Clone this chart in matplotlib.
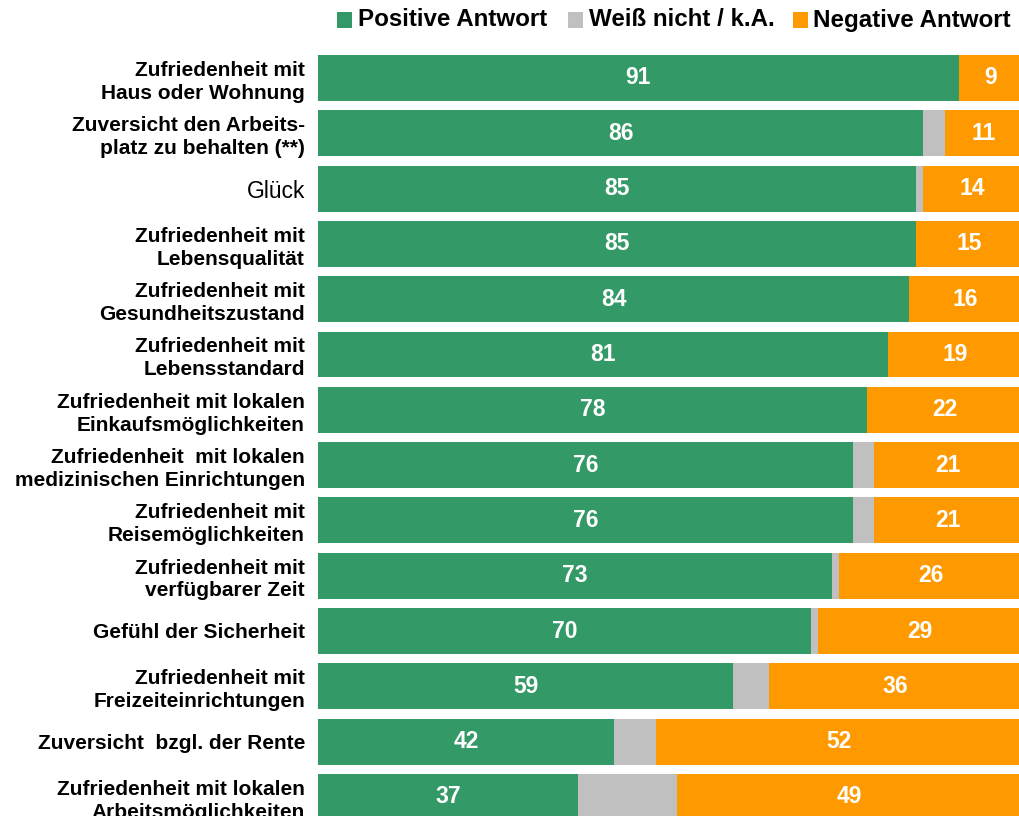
import matplotlib
matplotlib.use("Agg")
import matplotlib.pyplot as plt
from matplotlib.patches import Rectangle

plt.rcParams['font.family'] = ['Liberation Sans', 'DejaVu Sans']

categories = [
    "Zufriedenheit mit\nHaus oder Wohnung",
    "Zuversicht den Arbeits-\nplatz zu behalten (**)",
    "Glück",
    "Zufriedenheit mit\nLebensqualität",
    "Zufriedenheit mit\nGesundheitszustand",
    "Zufriedenheit mit\nLebensstandard",
    "Zufriedenheit mit lokalen\nEinkaufsmöglichkeiten",
    "Zufriedenheit  mit lokalen\nmedizinischen Einrichtungen",
    "Zufriedenheit mit\nReisemöglichkeiten",
    "Zufriedenheit mit\nverfügbarer Zeit",
    "Gefühl der Sicherheit",
    "Zufriedenheit mit\nFreizeiteinrichtungen",
    "Zuversicht  bzgl. der Rente",
    "Zufriedenheit mit lokalen\nArbeitsmöglichkeiten",
]
positive = [91, 86, 85, 85, 84, 81, 78, 76, 76, 73, 70, 59, 42, 37]
dontknow = [0, 3, 1, 0, 0, 0, 0, 3, 3, 1, 1, 5, 6, 14]
negative = [9, 11, 14, 15, 16, 19, 22, 21, 21, 26, 29, 36, 52, 49]
series_names = ["Positive Antwort", "Weiß nicht / k.A.", "Negative Antwort"]
colors = ["#339966", "#C0C0C0", "#FF9900"]

W, H = 1019, 816
fig = plt.figure(figsize=(W / 100, H / 100), dpi=100)
ax = fig.add_axes([318 / W, 0, 704 / W, 1])

ys = list(range(len(categories)))
h = 0.83
ax.barh(ys, positive, height=h, color=colors[0], linewidth=0)
ax.barh(ys, dontknow, left=positive, height=h, color=colors[1], linewidth=0)
lefts = [p + d for p, d in zip(positive, dontknow)]
ax.barh(ys, negative, left=lefts, height=h, color=colors[2], linewidth=0)

for y, p, l, n in zip(ys, positive, lefts, negative):
    ax.text(p / 2, y, str(p), ha='center', va='center', color='white',
            fontsize=16.5, fontweight='bold')
    ax.text(l + n / 2, y, str(n), ha='center', va='center', color='white',
            fontsize=16.5, fontweight='bold')

ax.set_xlim(0, 100)
pitch = 55.3
c0 = 78
ax.set_ylim((H - c0) / pitch, -c0 / pitch)
ax.set_yticks(ys)
ax.set_yticklabels(categories, fontsize=15, fontweight='bold', linespacing=1.25)
for lbl in ax.get_yticklabels():
    if lbl.get_text() == "Glück":
        lbl.set_fontweight('normal')
        lbl.set_fontsize(16.5)
ax.tick_params(axis='y', length=0, pad=9.4)
ax.tick_params(axis='x', bottom=False, labelbottom=False)
for s in ax.spines.values():
    s.set_visible(False)

# legend
leg_items = [(337, 358), (568, 589), (793, 813)]
for (sx, tx), name, col in zip(leg_items, series_names, colors):
    fig.patches.append(Rectangle((sx / W, 1 - 28 / H), 15 / W, 16 / H,
                                 transform=fig.transFigure, color=col, linewidth=0))
    fig.text(tx / W, 1 - 20 / H, name, ha='left', va='center',
             fontsize=17.4, fontweight='bold')

fig.savefig("out.png", dpi=100)
